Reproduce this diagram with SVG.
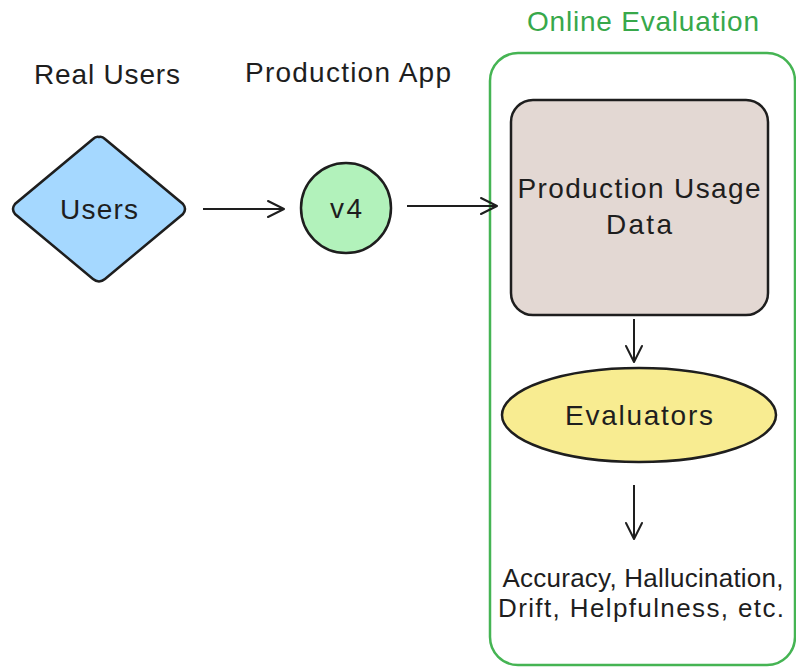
<svg xmlns="http://www.w3.org/2000/svg" width="796" height="668" viewBox="0 0 796 668">
  <style>
    .lbl { font-family: "Liberation Sans", "DejaVu Sans", sans-serif; font-size: 28px; fill: #1e1e1e; text-anchor: middle; }
    .small { font-size: 26px; }
    .shape { stroke: #1e1e1e; stroke-width: 2.5; }
    .conn { stroke: #1e1e1e; stroke-width: 2; fill: none; }
  </style>
  <defs>
    <marker id="arrow" viewBox="0 0 20 20" refX="18" refY="10" markerWidth="20" markerHeight="20" markerUnits="userSpaceOnUse" orient="auto">
      <path d="M2,2 L18,10 L2,18" fill="none" stroke="#1e1e1e" stroke-width="2" stroke-linecap="round" stroke-linejoin="round"/>
    </marker>
  </defs>
  <rect width="796" height="668" fill="#ffffff"/>

  <!-- column headings -->
  <text class="lbl" x="107" y="84" textLength="146">Real Users</text>
  <text class="lbl" x="348" y="82" textLength="206">Production App</text>

  <!-- online evaluation container -->
  <g id="online-evaluation">
    <rect x="490" y="53" width="305" height="612" rx="28" fill="none" stroke="#45b453" stroke-width="2.5"/>
    <text class="lbl" x="643" y="31" textLength="232" style="fill:#37a84a">Online Evaluation</text>
  </g>

  <g id="users">
    <path class="shape" d="M99,137 Q102,136 105,139 L183,204 Q187,209 183,214 L105,279 Q99,284 93,279 L15,214 Q11,209 15,204 L93,139 Q96,136 99,137 Z" fill="#a5d8ff"/>
    <text class="lbl" x="99" y="219" textLength="78">Users</text>
  </g>

  <g id="v4">
    <circle class="shape" cx="346" cy="208" r="45" fill="#b2f2bb"/>
    <text class="lbl" x="346" y="218" textLength="32">v4</text>
  </g>

  <g id="production-usage-data">
    <rect class="shape" x="511" y="100" width="257" height="215" rx="22" fill="#e3d8d3"/>
    <text class="lbl" x="639" y="198" textLength="243">Production Usage</text>
    <text class="lbl" x="639" y="234" textLength="66">Data</text>
  </g>

  <g id="evaluators">
    <ellipse class="shape" cx="639" cy="415" rx="137" ry="47" fill="#f8ec91"/>
    <text class="lbl" x="639" y="425" textLength="148">Evaluators</text>
  </g>

  <g id="metrics">
    <text class="lbl small" x="643" y="587" textLength="281">Accuracy, Hallucination,</text>
    <text class="lbl small" x="641" y="617" textLength="286">Drift, Helpfulness, etc.</text>
  </g>

  <g id="connectors">
    <line class="conn" x1="203" y1="209" x2="284" y2="209" marker-end="url(#arrow)"/>
    <line class="conn" x1="407" y1="206" x2="497" y2="206" marker-end="url(#arrow)"/>
    <line class="conn" x1="634" y1="319" x2="634" y2="362" marker-end="url(#arrow)"/>
    <line class="conn" x1="634" y1="485" x2="634" y2="539" marker-end="url(#arrow)"/>
  </g>
</svg>
